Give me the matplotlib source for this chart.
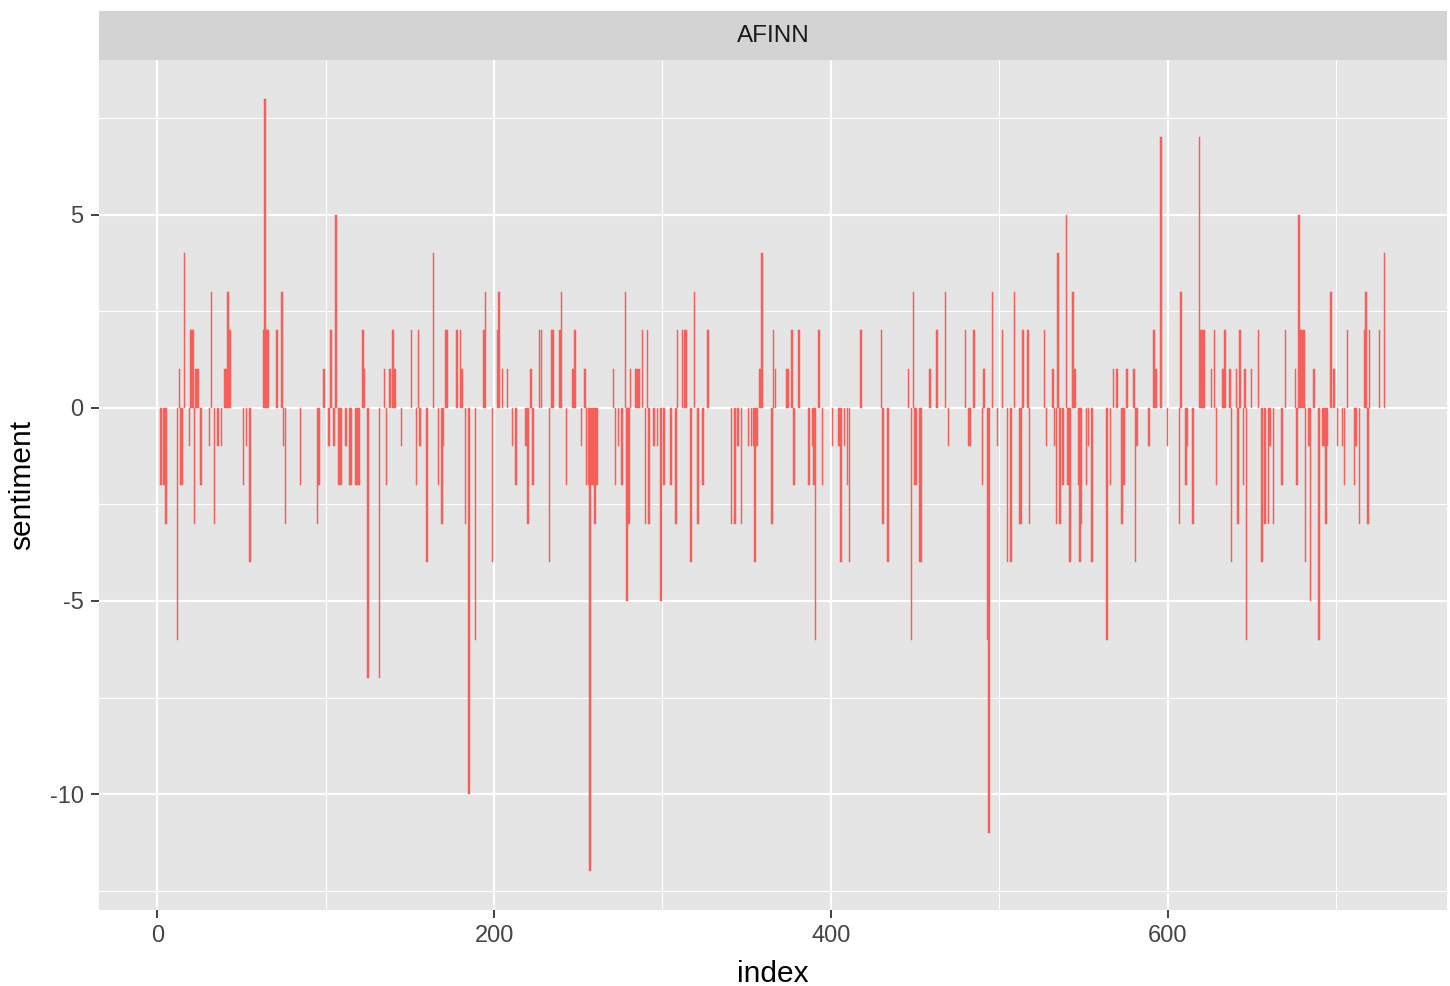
import matplotlib
matplotlib.use("Agg")
import matplotlib.pyplot as plt

plt.rcParams['font.family'] = ['Liberation Sans', 'DejaVu Sans']

panel_title = "AFINN"
x_label = "index"
y_label = "sentiment"
x_ticks = [0, 200, 400, 600]
y_ticks = [-10, -5, 0, 5]

index = [2, 4, 5, 12, 13, 14, 15, 16, 19, 20, 21, 22, 23, 24, 26, 31, 32, 34, 36, 38,
         40, 41, 42, 43, 51, 53, 55,
         63, 64, 65, 66, 71, 74, 75, 76, 85, 95, 96, 99, 102, 103, 105, 106, 108, 109,
         112, 114, 115, 118,
         119, 120, 122, 123, 125, 132, 135, 136, 138, 140, 141, 145, 151, 154, 155, 156,
         160, 164, 167, 169, 170, 171, 172, 178, 180, 181, 183, 185, 189, 194, 195, 199,
         202, 203, 205, 208, 211, 213, 219, 220, 222, 223, 227, 228, 233, 234, 235, 239, 240,
         243, 247, 248, 252, 254, 255, 256, 257, 258, 259, 260, 261, 271, 272, 274, 276,
         278, 279, 280, 281, 284, 285, 286, 288, 290, 291, 292, 295, 297, 299, 301,
         305, 308, 309, 312, 313, 314, 317, 319, 321, 324, 327, 341, 343, 345, 347, 351,
         353, 354, 355, 356, 358, 359,
         365, 366, 367, 374, 375, 377, 378, 381, 387, 389, 390, 391, 393, 395, 401, 405,
         406, 408, 410, 411, 418,
         430, 431, 434, 446, 448, 449, 450, 451, 453, 454, 459, 463, 468, 470, 480, 482,
         483, 485,
         490, 491, 493, 494, 496, 499, 502, 505, 507, 509, 512, 513, 514, 517, 518, 527,
         528, 532, 533, 534, 535, 536, 538, 540, 541, 542, 544, 545,
         547, 548, 549, 552, 553, 555, 564, 566, 568, 570, 573, 574, 576, 580, 581, 582,
         589, 592, 593, 596, 600, 607, 608,
         611, 612, 615, 619, 620, 621, 622, 626, 628, 629, 633, 634, 637, 638, 641, 642,
         643, 645, 646, 647, 650, 654, 656, 658, 660, 661, 663, 668,
         670, 676, 677, 678, 679, 680, 681, 682, 684, 685, 687, 690, 692, 693, 694, 695,
         697, 699, 701, 704, 705, 707, 711, 712, 714, 717, 718, 719, 720, 726, 729]

sentiment = [-2, -2, -3, -6, 1, -2, -2, 4, -1, 2, 2, -3, 1, 1, -2, -1, 3, -3, -1, -1,
             1, 1, 3, 2, -2, -1, -4,
             2, 8, 2, 2, 2, 3, -1, -3, -2, -3, -2, 1, -1, 2, -1, 5, -2, -2,
             -1, -2, -2, -2,
             -2, -2, 2, 1, -7, -7, 1, -2, 1, 2, 1, -1, 2, -2, 2, -1,
             -4, 4, -2, -3, -1, 2, 2, 2, 2, 1, -3, -10, -6, 2, 3, -4,
             2, 3, 1, 1, -1, -2, -1, -3, 1, -2, 2, 2, -4, 2, 2, 2, 3,
             -2, 1, 2, -1, 1, -2, -2, -12, -2, -2, -3, -2, 1, -2, -1, -2,
             3, -5, -3, 1, 1, 1, 1, 2, -3, 2, -3, -1, -1, -5, -2,
             -2, -3, 2, 2, 2, 2, -4, 3, -3, -2, 2, -3, -3, -1, -3, -1,
             -1, -1, -4, -1, 1, 4,
             -3, 2, 1, 1, 1, 2, -2, 2, -2, -1, -2, -6, 2, -2, -1, -1,
             -4, -1, -2, -4, 2,
             2, -3, -4, 1, -6, 3, -2, -2, -4, -4, 1, 2, 3, -1, 2, -1,
             -1, 2,
             -2, 1, -6, -11, 3, -1, 2, -4, -4, 3, -3, -3, 2, 2, -3, 2,
             -1, 1, -1, -3, 4, -3, -2, 5, -2, -4, 3, 1,
             -2, -4, -3, -2, -1, -4, -6, -2, 1, 1, -3, -2, 1, 1, -4, -1,
             -1, 2, 1, 7, -1, -3, 3,
             -2, -1, -3, 7, 2, 2, 2, 1, 2, -2, 1, 2, 1, -4, 1, -3,
             2, -2, 1, -6, 1, 2, -4, -3, -3, -1, -3, -2,
             2, 1, -2, 5, 2, 2, 2, -4, -1, -5, 1, -6, -1, -1, -3, -1,
             3, 1, -1, -1, -2, 2, -2, -1, -3, 2, 3, -3, 2, 2, 4]

W, H = 1450, 986
fig = plt.figure(figsize=(W / 100, H / 100), dpi=100)
fig.patch.set_facecolor("white")

left, right, top, bottom = 99, 1447, 60, 910
ax = fig.add_axes([left / W, 1 - bottom / H, (right - left) / W, (bottom - top) / H])
ax.set_facecolor("#E5E5E5")

bar_color = "#F55F5C"
ax.bar(index, sentiment, width=0.9, color=bar_color, edgecolor=bar_color,
       linewidth=0.35, zorder=3)

ax.set_xlim(-34.7, 766.0)
ax.set_ylim(-13.0, 9.0)
ax.set_xticks(x_ticks)
ax.set_xticks([100, 300, 500, 700], minor=True)
ax.set_yticks(y_ticks)
ax.set_yticks([-12.5, -7.5, -2.5, 2.5, 7.5], minor=True)
ax.set_yticklabels([str(v) for v in y_ticks])
ax.grid(which="major", color="white", linewidth=1.6, zorder=1)
ax.grid(which="minor", color="white", linewidth=0.8, zorder=1)
ax.set_axisbelow(True)
for s in ax.spines.values():
    s.set_visible(False)
ax.tick_params(which="major", length=6, width=1.3, color="#333333",
               labelsize=17, labelcolor="#444444", pad=5)
ax.tick_params(which="minor", length=0)
ax.set_xlabel(x_label, fontsize=21.5, color="black", labelpad=9)
ax.set_ylabel(y_label, fontsize=21.5, color="black", labelpad=10)

# facet strip
strip_top = 11
sax = fig.add_axes([left / W, 1 - top / H, (right - left) / W, (top - strip_top) / H])
sax.set_facecolor("#D3D3D3")
sax.set_xticks([])
sax.set_yticks([])
for s in sax.spines.values():
    s.set_visible(False)
sax.text(0.5, 0.48, panel_title, ha="center", va="center", fontsize=17.5,
         color="#1A1A1A", transform=sax.transAxes)

fig.savefig("out.png", dpi=100)
